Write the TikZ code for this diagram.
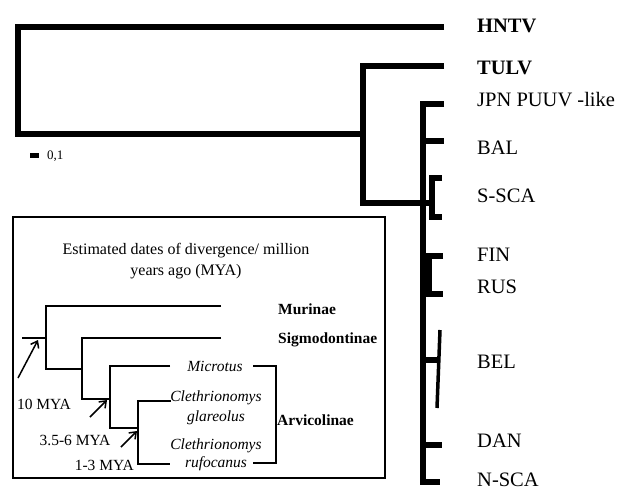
\documentclass[tikz,border=0pt]{standalone}
\usepackage{fontspec}
\setmainfont{Liberation Serif}
\usetikzlibrary{arrows.meta}
\begin{document}
\begin{tikzpicture}[x=1pt,y=-1pt,
  tb/.style={line width=5.5pt,line join=miter},
  bel/.style={line width=3.5pt},
  it/.style={line width=1.7pt,line join=miter},
  brk/.style={line width=1.5pt,line join=miter},
  arr/.style={line width=1.5pt,-{Straight Barb[length=6pt,width=9pt,line width=1.5pt]}},
  lab/.style={anchor=base west,inner sep=0pt,font=\fontsize{20.5}{24}\selectfont},
  blab/.style={lab,font=\fontsize{20.5}{24}\selectfont\bfseries},
  ilab/.style={inner sep=0pt,font=\fontsize{15.5}{18}\selectfont\itshape},
  glab/.style={anchor=west,inner sep=0pt,font=\fontsize{15.5}{18}\selectfont\bfseries},
  mlab/.style={inner sep=0pt,font=\fontsize{15.5}{18}\selectfont}]
\useasboundingbox (0,0) rectangle (621,491);
% ---------- main tree ----------
\coordinate (hntv) at (444,27);
\coordinate (tulv) at (444,66);
\coordinate (Rt) at (18,134);
\coordinate (n1) at (363,134);
\coordinate (n2) at (423,203);
\coordinate (jpn) at (444,104);
\coordinate (bal) at (444,141);
\coordinate (s1) at (432,203);
\coordinate (ssca1) at (442,178);
\coordinate (ssca2) at (442,217);
\coordinate (f1) at (429,275);
\coordinate (fin) at (443,256);
\coordinate (rus) at (443,294);
\coordinate (b1) at (438,360);
\coordinate (b1t) at (440,330);
\coordinate (b1b) at (437,408);
\coordinate (dan) at (442,445);
\coordinate (nsca) at (440,482);
\draw[tb] (hntv) -| (Rt) -- (n1);
\draw[tb] (tulv) -| (n1) |- (n2);
\draw[tb] (jpn) -| (n2) |- (nsca);
\draw[tb] (n2 |- bal) -- (bal);
\draw[tb] (n2) -- (s1);
\draw[tb] (ssca1) -| (s1) |- (ssca2);
\draw[tb] (fin) -| (f1) |- (rus);
\draw[tb] (n2 |- b1) -- (b1);
\draw[bel] (b1t) -- (b1b);
\draw[tb] (n2 |- dan) -- (dan);
\node[blab] (Lhntv) at (477,32) {HNTV};
\node[blab] (Ltulv) at (477,74) {TULV};
\node[lab] (Ljpn) at (477,106) {JPN PUUV -like};
\node[lab] (Lbal) at (477,154) {BAL};
\node[lab] (Lssca) at (477,202) {S-SCA};
\node[lab] (Lfin) at (477,261) {FIN};
\node[lab] (Lrus) at (477,293) {RUS};
\node[lab] (Lbel) at (477,368) {BEL};
\node[lab] (Ldan) at (477,447) {DAN};
\node[lab] (Lnsca) at (477,486) {N-SCA};
% scale bar
\fill (30,153) rectangle (39,158);
\node[anchor=west,inner sep=0pt,font=\fontsize{13}{15}\selectfont] (scale) at (47,156) {0,1};
% ---------- inset box ----------
\draw[line width=1.4pt] (13,217) rectangle (385,478);
\node[align=center,inner sep=0pt,font=\fontsize{16}{21}\selectfont] (title) at (186,261)
  {Estimated dates of divergence/ million\\years ago (MYA)};
\coordinate (mur) at (221,306);
\coordinate (sig) at (221,338);
\coordinate (stub) at (22,338);
\coordinate (iRm) at (46,338);
\coordinate (iRb) at (46,369);
\coordinate (iSb) at (82,369);
\coordinate (iSl) at (82,399);
\coordinate (iMl) at (110,399);
\coordinate (mic) at (170,366);
\coordinate (iMb) at (110,428);
\coordinate (iCb) at (138,428);
\coordinate (cg) at (171,401);
\coordinate (iCl) at (138,464);
\coordinate (cr) at (170,464);
\draw[it] (mur) -| (iRb) -- (iSb);
\draw[it] (stub) -- (iRm);
\draw[it] (sig) -| (iSl) -- (iMl);
\draw[it] (mic) -| (iMb) -- (iCb);
\draw[it] (cg) -| (iCl) -- (cr);
\coordinate (brT) at (253,366);
\coordinate (brB) at (253,463);
\draw[brk] (brT) -- ++(23,0) |- (brB);
\node[glab] (Lmur) at (278,309) {Murinae};
\node[glab] (Lsig) at (278,340) {Sigmodontinae};
\node[glab] (Larv) at (277,420) {Arvicolinae};
\node[ilab] (Lmic) at (215,366) {Microtus};
\node[ilab] (Lcg1) at (216,398) {Clethrionomys};
\node[ilab] (Lcg2) at (216,418) {glareolus};
\node[ilab] (Lcr1) at (216,446) {Clethrionomys};
\node[ilab] (Lcr2) at (216,464) {rufocanus};
% arrows
\coordinate (a1s) at (18,378); \coordinate (a1e) at (38,340);
\coordinate (a2s) at (90,417); \coordinate (a2e) at (107,400);
\coordinate (a3s) at (121,447); \coordinate (a3e) at (137,431);
\draw[arr] (a1s) -- (a1e);
\draw[arr] (a2s) -- (a2e);
\draw[arr] (a3s) -- (a3e);
\node[mlab] (m10) at (44,404) {10 MYA};
\node[mlab] (m35) at (75,440) {3.5-6 MYA};
\node[mlab,anchor=east] (m13) at (134,465) {1-3 MYA};
\end{tikzpicture}
\end{document}
